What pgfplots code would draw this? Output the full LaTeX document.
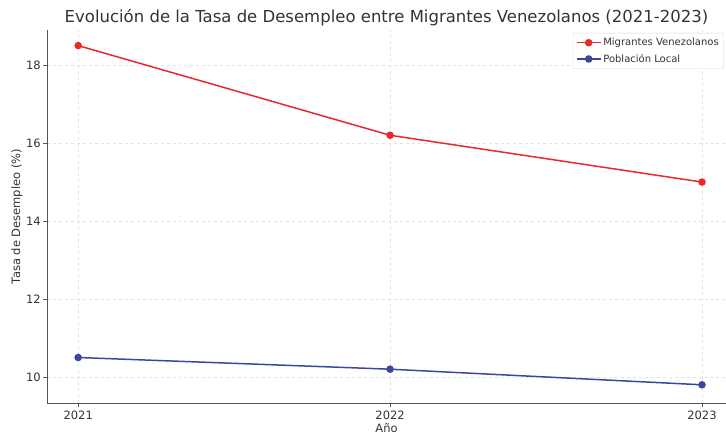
\documentclass[border=0pt]{standalone}
\usepackage{pgfplots}
\pgfplotsset{compat=1.18}
\usepackage{fontspec}
\setmainfont{DejaVu Sans}
\definecolor{cred}{HTML}{E8282C}
\definecolor{cblue}{HTML}{3A479B}
\definecolor{spine}{HTML}{555555}
\definecolor{txt}{HTML}{333333}
\begin{document}
\begin{tikzpicture}
\begin{axis}[
  scale only axis,
  width=679bp, height=373bp,
  xmin=2020.9, xmax=2023.077,
  ymin=9.333, ymax=18.9,
  axis x line*=bottom, axis y line*=left,
  axis line style={spine, line width=0.9pt},
  xtick={2021,2022,2023},
  xticklabels={2021,2022,2023},
  ytick={10,12,14,16,18},
  tick align=outside,
  tick style={spine, line width=0.7pt},
  major tick length=4bp,
  grid=major,
  grid style={dashed, gray!22, line width=0.4pt},
  tick label style={font=\fontsize{11.5bp}{13bp}\selectfont, text=txt},
  yticklabel style={inner xsep=2bp},
  /pgf/number format/assume math mode=true,
  /pgf/number format/1000 sep={},
  xlabel={Año}, ylabel={Tasa de Desempleo (\%)},
  label style={font=\fontsize{11.5bp}{13bp}\selectfont, text=txt},
  xlabel style={at={(axis description cs:0.5,0)}, anchor=north, yshift=-17bp},
  ylabel style={at={(axis description cs:-0.031,0.5)}, anchor=south},
  title={Evolución de la Tasa de Desempleo entre Migrantes Venezolanos (2021-2023)},
  title style={font=\fontsize{16.5bp}{19bp}\selectfont, text=txt, at={(axis description cs:0.5,1)}, anchor=south, yshift=-5bp},
  legend style={at={(axis description cs:0.997,0.992)}, anchor=north east,
    font=\fontsize{10bp}{12bp}\selectfont, text=txt, draw=gray!30, rounded corners=2pt,
    row sep=3bp, inner sep=3bp},
  legend image code/.code={
    \draw[mark repeat=2,mark phase=2] plot coordinates {(0cm,0cm) (0.42cm,0cm) (0.84cm,0cm)};},
  legend cell align=left,
]
\addplot[cred, line width=1.5pt, mark=*, mark size=3pt] coordinates {(2021,18.5) (2022,16.2) (2023,15.0)};
\addlegendentry{Migrantes Venezolanos}
\addplot[cblue, line width=1.5pt, mark=*, mark size=3pt] coordinates {(2021,10.5) (2022,10.2) (2023,9.8)};
\addlegendentry{Población Local}
\end{axis}
\pgfresetboundingbox
\useasboundingbox (-47bp,-33bp) rectangle (679bp,403bp);
\end{tikzpicture}
\end{document}
